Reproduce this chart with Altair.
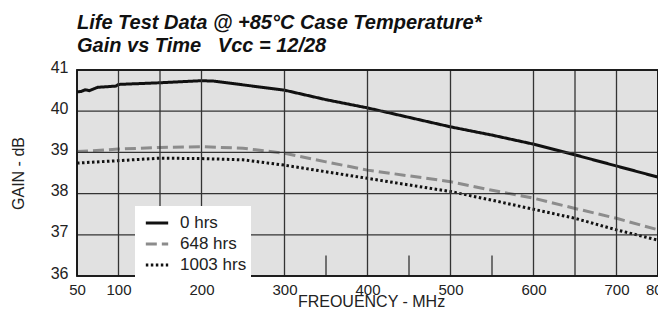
import altair as alt
import pandas as pd

# ---- data ----
freq_0 = [50, 55, 60, 65, 75, 90, 97, 100, 150, 200, 215, 300, 350, 400, 450, 500, 550, 600, 650, 700, 800]
gain_0 = [40.47, 40.48, 40.52, 40.50, 40.58, 40.60, 40.61, 40.65, 40.69, 40.74, 40.73, 40.51, 40.28, 40.08, 39.85, 39.62, 39.42, 39.20, 38.94, 38.67, 38.40]

freq_648 = [50, 100, 150, 200, 250, 300, 350, 400, 450, 500, 550, 600, 650, 700, 800]
gain_648 = [39.02, 39.08, 39.12, 39.14, 39.10, 38.98, 38.77, 38.57, 38.43, 38.29, 38.08, 37.89, 37.64, 37.40, 37.12]

freq_1003 = [50, 100, 150, 200, 250, 300, 350, 400, 450, 500, 550, 600, 650, 700, 800]
gain_1003 = [38.74, 38.80, 38.86, 38.85, 38.82, 38.69, 38.53, 38.37, 38.21, 38.05, 37.84, 37.62, 37.40, 37.12, 36.87]

series_names = ["0 hrs", "648 hrs", "1003 hrs"]
x_label_values = [50, 100, 200, 300, 400, 500, 600, 700, 800]
x_grid_values = [100, 150, 200, 300, 400, 500, 600, 650, 700]
x_short_ticks = [250, 350, 450, 550]
y_values = [36, 37, 38, 39, 40, 41]
y_grid_values = [37, 38, 39, 40]

rows = []
for name, fr, gn in [("0 hrs", freq_0, gain_0), ("648 hrs", freq_648, gain_648), ("1003 hrs", freq_1003, gain_1003)]:
    for f, g in zip(fr, gn):
        rows.append({"freq": f, "gain": g, "series": name})
df = pd.DataFrame(rows)

W, H = 581, 206
xscale = alt.Scale(domain=[50, 100, 700, 800], range=[0, 41.5, 539.5, 581])
yscale = alt.Scale(domain=[36, 41], nice=False, zero=False)

FONT = "Liberation Sans"
grid_color = "#333333"

xaxis = alt.Axis(
    values=x_label_values, title="FREQUENCY - MHz", grid=False, ticks=False, domain=False,
    labelFontSize=15, labelPadding=6, labelColor="#222", labelFont=FONT,
    titleFont=FONT, titleFontSize=16, titleFontWeight="normal", titleColor="#222",
    titleX=294, titleY=30, titleBaseline="alphabetic",
    labelFlush=False, labelOverlap=False,
)
yaxis = alt.Axis(
    values=y_values, title="GAIN - dB", grid=False, ticks=False, domain=False,
    labelFontSize=16, labelPadding=9, labelColor="#222", labelFont=FONT,
    labelBaseline="alphabetic", labelFlush=False, labelOffset=2,
    titleFont=FONT, titleFontSize=16, titleFontWeight="normal", titleColor="#222",
    titlePadding=24,
)

leg = alt.Legend(
    title=None, orient="none", legendX=58, legendY=136, fillColor="white",
    padding=4, symbolOffset=5, symbolType="stroke", symbolSize=500, symbolStrokeWidth=3,
    labelFontSize=17, labelFont=FONT, labelColor="#222", rowPadding=-2, labelOffset=10,
)

lines = alt.Chart(df).mark_line(strokeWidth=3, strokeCap="butt").encode(
    x=alt.X("freq:Q", scale=xscale, axis=xaxis),
    y=alt.Y("gain:Q", scale=yscale, axis=yaxis),
    color=alt.Color(
        "series:N",
        scale=alt.Scale(domain=series_names, range=["#111111", "#8c8c8c", "#111111"]),
        sort=series_names, legend=leg,
    ),
    strokeDash=alt.StrokeDash(
        "series:N",
        scale=alt.Scale(domain=series_names, range=[[1, 0], [11, 5], [2.5, 2.5]]),
        sort=series_names, legend=leg,
    ),
    order=alt.Order("freq:Q"),
)

# grid lines drawn as marks on top (through the same scales)
vgrid = alt.Chart(pd.DataFrame({"freq": x_grid_values})).mark_rule(color=grid_color, strokeWidth=1.3).encode(
    x=alt.X("freq:Q", scale=xscale)
)
hgrid = alt.Chart(pd.DataFrame({"gain": y_grid_values})).mark_rule(color=grid_color, strokeWidth=1.3).encode(
    y=alt.Y("gain:Q", scale=yscale)
)
short = alt.Chart(pd.DataFrame({"freq": x_short_ticks, "gain": [36] * 4, "gain2": [36.5] * 4})).mark_rule(
    color=grid_color, strokeWidth=1.3
).encode(
    x=alt.X("freq:Q", scale=xscale),
    y=alt.Y("gain:Q", scale=yscale),
    y2="gain2:Q",
)
frame = alt.Chart(pd.DataFrame({"freq": [50], "freq2": [800], "gain": [36], "gain2": [41]})).mark_rect(
    fill=None, fillOpacity=0, stroke="#111111", strokeWidth=1.6
).encode(
    x=alt.X("freq:Q", scale=xscale), x2="freq2:Q",
    y=alt.Y("gain:Q", scale=yscale), y2="gain2:Q",
)

chart = alt.layer(lines, vgrid, hgrid, short, frame).properties(
    width=W,
    height=H,
    autosize=alt.AutoSizeParams(type="none"),
    padding={"left": 69, "top": 62, "right": 0, "bottom": 31},
    title=alt.TitleParams(
        ["Life Test Data @ +85°C Case Temperature*", "Gain vs Time\u00a0\u00a0\u00a0Vcc = 12/28"],
        anchor="start", frame="group", font=FONT, fontSize=20, fontStyle="italic",
        fontWeight="bold", color="#111", lineHeight=23, offset=3,
    ),
).configure(
    background="white",
    view=alt.ViewConfig(fill="#e1e1e1", stroke="#111111", strokeWidth=1.5),
)

chart.save("out.html", embed_options={"renderer": "svg", "actions": False})
